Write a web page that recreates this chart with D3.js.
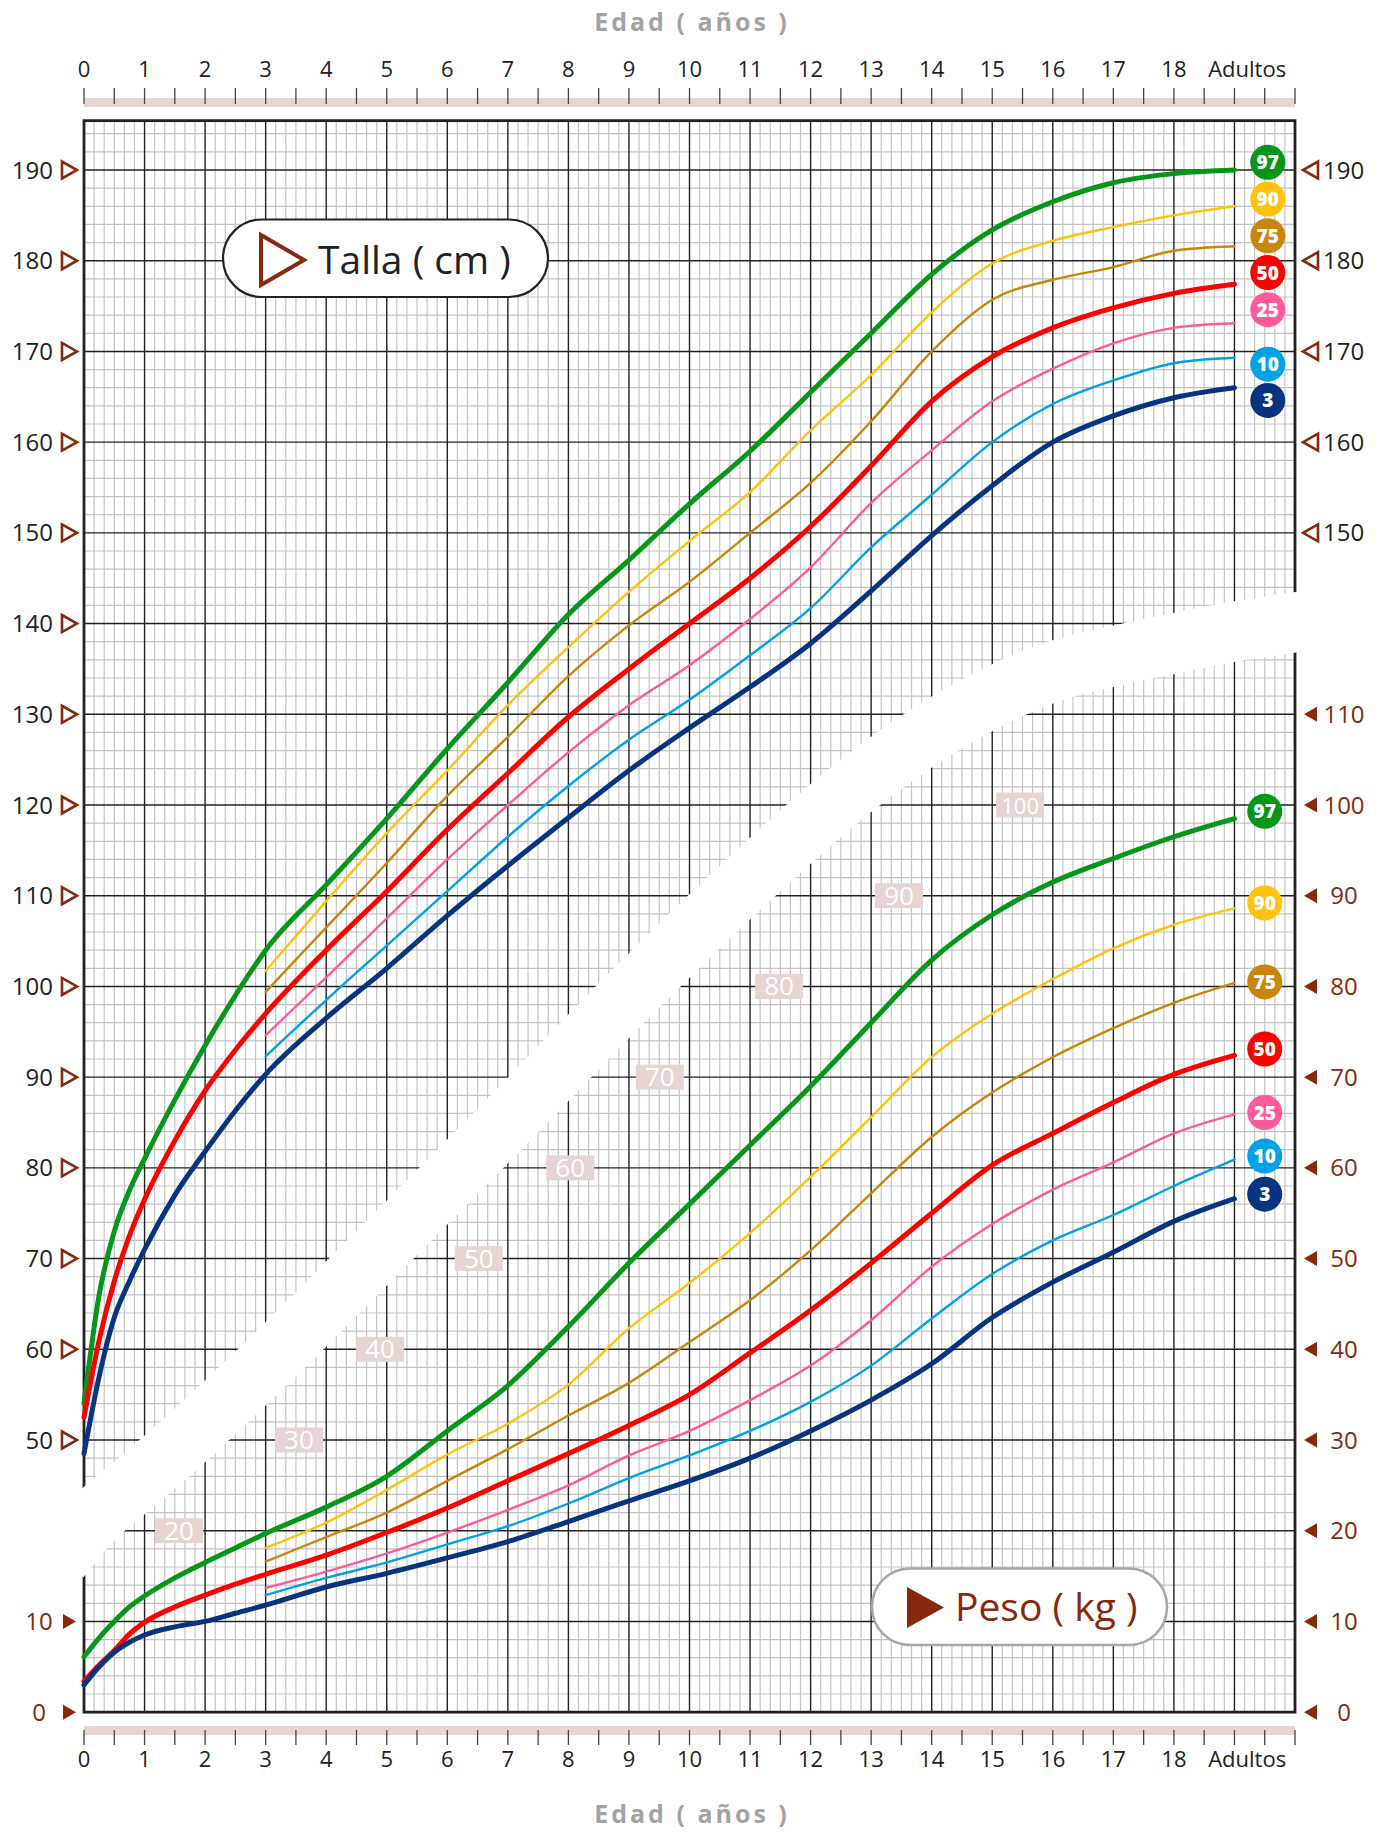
<!DOCTYPE html>
<html><head><meta charset="utf-8">
<script src="https://cdn.jsdelivr.net/npm/d3@7"></script>
<style>body{margin:0;background:#fff} svg{display:block} text{font-family:"Open Sans",sans-serif}</style>
</head><body><svg id="c" width="1386" height="1832"></svg>
<script>
// ---------- DATA ----------
const agesEarly = [0,0.25,0.5,0.75,1,1.5,2,2.5,3,4,5,6,7,8,9,10,11,12,13,14,15,16,17,18,19];
const agesLate  = [3,4,5,6,7,8,9,10,11,12,13,14,15,16,17,18,19];

const tallaP97 = [54,66,73,77.5,81,87.5,93.5,99,104,111.2,118.5,126.2,133.5,141,147,153.2,159,165.5,172,178.5,183.4,186.5,188.6,189.6,190];
const tallaP90 = [101.7,109.4,116.9,123.8,131,137.4,143.5,149.1,154.5,161.3,167.4,174.3,179.7,182.2,183.7,185,186];
const tallaP75 = [99.4,106.5,113.6,121,127.5,134.2,139.8,144.6,150,155.5,162.3,170,175.7,177.9,179.3,181.1,181.6];
const tallaP50 = [52.5,61,67.5,72.5,76.5,83,88.5,93,97,104,110.5,117.3,123.5,129.7,135,140,145,150.7,157.4,164.5,169.4,172.6,174.8,176.4,177.4];
const tallaP25 = [94.6,101,107.5,114,120,125.8,131,135.4,140.5,146.2,153.3,159.1,164.5,168.1,170.9,172.6,173.1];
const tallaP10 = [92.3,98.5,104.5,110.5,116.5,122.1,127.2,131.6,136.5,141.7,148.4,154.2,160,164.2,166.8,168.7,169.3];
const tallaP3  = [48.5,57,63.5,67.5,71,77,81.8,86.3,90.3,96.5,102,107.8,113.3,118.6,123.8,128.5,133,137.8,143.6,149.7,155.2,160,162.9,164.9,166];

const pesoP97 = [6.1,8.2,10,11.6,12.8,14.8,16.5,18.1,19.7,22.6,26,31,36,42.5,49.5,56,62.5,69,76,82.9,87.9,91.5,94.1,96.5,98.5];
const pesoP90 = [18.1,20.9,24.5,28.4,31.8,36.1,42.3,47.3,52.8,59,65.6,72.2,77,80.8,84.2,86.8,88.6];
const pesoP75 = [16.6,19.3,22,25.5,29,32.7,36.3,40.8,45.4,50.9,57.2,63.4,68.3,72.2,75.4,78.2,80.4];
const pesoP50 = [3.4,5.2,6.8,8.6,9.9,11.6,12.9,14.1,15.2,17.3,19.8,22.5,25.5,28.5,31.6,35,39.6,44.3,49.5,55,60.3,63.8,67.2,70.3,72.4];
const pesoP25 = [13.7,15.5,17.5,19.8,22.3,25,28.3,31,34.4,38.2,43.2,49.1,53.8,57.6,60.6,63.8,65.9];
const pesoP10 = [12.9,14.8,16.5,18.5,20.5,23,25.8,28.3,31,34.2,38.2,43.4,48.3,52,54.8,58,60.9];
const pesoP3  = [3,5,6.6,7.7,8.5,9.4,10,10.9,11.8,13.8,15.3,17,18.8,21,23.3,25.5,28,31,34.4,38.4,43.5,47.4,50.7,54.1,56.6];

const percentiles = ["97","90","75","50","25","10","3"];
const ageTickLabels = ["0","1","2","3","4","5","6","7","8","9","10","11","12","13","14","15","16","17","18","Adultos"];
const tallaTicksLeft  = [50,60,70,80,90,100,110,120,130,140,150,160,170,180,190];
const tallaTicksRight = [150,160,170,180,190];
const pesoTicksLeft   = [0,10];
const pesoTicksRight  = [0,10,20,30,40,50,60,70,80,90,100,110];
const pesoGridLabels  = [20,30,40,50,60,70,80,90,100];
const pesoGridLabelAges = [1.57,3.55,4.89,6.52,8.03,9.51,11.48,13.46,15.46];
const badgeTalla = [190.85,186.8,182.75,178.7,174.6,168.6,164.6];
const badgePeso  = [99.3,89.2,80.5,73.1,66.1,61.3,57.1];
// white separating band: centre line (age, talla-cm units)
const bandAges  = [-0.4,0,1.01,1.65,3.02,5.22,6.87,9.0,11.0,12.65,14.3,15.96,17.0,17.99,18.98,20.2];
const bandTalla = [36.9,40.2,46.15,49.9,58.5,73.2,84.3,99.0,111.9,121.6,129.3,134.6,136.4,137.8,139.1,140.3];

// ---------- LAYOUT ----------
const colors = {"97":"#05961a","90":"#ffc20e","75":"#c8860a","50":"#fe0000","25":"#ff5b9a","10":"#00a2e6","3":"#07347f"};
const thick = {"97":true,"50":true,"3":true};
const brown = "#86290d";
const svg = d3.select("#c");
const x = d3.scaleLinear().domain([0,20]).range([84,1295]);
const yT = d3.scaleLinear().domain([50,190]).range([1440,170]);
const yTop = 195.44, yBot = 20;
const yW = w => yT(w+20);
const L = x(0), R = x(20), T = yT(yTop), B = yT(yBot);

// grid
const g = svg.append("g");
const minorX = d3.range(0,20*6+1).map(i=>i/6).filter(v=>Math.abs(v-Math.round(v))>1e-6);
const minorY = d3.range(20,196,2).filter(v=>v%10!==0);
g.selectAll(".mx").data(minorX).join("line").attr("x1",d=>x(d)).attr("x2",d=>x(d)).attr("y1",T).attr("y2",B).attr("stroke","#c4c4c4").attr("stroke-width",1.2);
g.selectAll(".my").data(minorY).join("line").attr("x1",L).attr("x2",R).attr("y1",d=>yT(d)).attr("y2",d=>yT(d)).attr("stroke","#c4c4c4").attr("stroke-width",1.2);
g.selectAll(".Mx").data(d3.range(1,20)).join("line").attr("x1",d=>x(d)).attr("x2",d=>x(d)).attr("y1",T).attr("y2",B).attr("stroke","#222").attr("stroke-width",1.4);
g.selectAll(".My").data(d3.range(30,191,10)).join("line").attr("x1",L).attr("x2",R).attr("y1",d=>yT(d)).attr("y2",d=>yT(d)).attr("stroke","#222").attr("stroke-width",1.4);
g.append("rect").attr("x",L).attr("y",T).attr("width",R-L).attr("height",B-T).attr("fill","none").attr("stroke","#222").attr("stroke-width",2.8);

// white band
const bandLine = d3.line().x((d,i)=>x(bandAges[i])).y(d=>yT(d)).curve(d3.curveMonotoneX);
svg.append("path").attr("d",bandLine(bandTalla)).attr("fill","none").attr("stroke","#fff").attr("stroke-width",60);

// weight grid labels
const lg = svg.append("g");
pesoGridLabels.forEach((v,i)=>{
  const cx = x(pesoGridLabelAges[i]), cy = yW(v);
  lg.append("rect").attr("x",cx-24).attr("y",cy-12.5).attr("width",48).attr("height",25).attr("fill","#e6d5d2");
  lg.append("text").attr("x",cx).attr("y",cy+9).attr("text-anchor","middle").attr("font-size",v>=100?22:26).attr("fill","#fff").text(v);
});

// curves
const lineFn = d3.line().curve(d3.curveMonotoneX);
function series(ages, vals, yfn){ return vals.map((v,i)=>[x(ages[i]), yfn(v)]); }
const tallaSets = {"97":[agesEarly,tallaP97],"90":[agesLate,tallaP90],"75":[agesLate,tallaP75],"50":[agesEarly,tallaP50],"25":[agesLate,tallaP25],"10":[agesLate,tallaP10],"3":[agesEarly,tallaP3]};
const pesoSets = {"97":[agesEarly,pesoP97],"90":[agesLate,pesoP90],"75":[agesLate,pesoP75],"50":[agesEarly,pesoP50],"25":[agesLate,pesoP25],"10":[agesLate,pesoP10],"3":[agesEarly,pesoP3]};
const cg = svg.append("g");
["90","75","25","10","97","50","3"].forEach(p=>{
  [[tallaSets,yT],[pesoSets,yW]].forEach(([sets,yf])=>{
    cg.append("path").attr("d",lineFn(series(sets[p][0],sets[p][1],yf)))
      .attr("fill","none").attr("stroke",colors[p]).attr("stroke-width",thick[p]?5:2.4)
      .attr("stroke-linecap","round").attr("stroke-linejoin","round");
  });
});

// badges
const bg = svg.append("g");
percentiles.forEach((p,i)=>{
  [[badgeTalla[i],yT,19.55],[badgePeso[i],yW,19.5]].forEach(([v,yf,a])=>{
    const cx=x(a), cy=yf(v);
    bg.append("circle").attr("cx",cx).attr("cy",cy).attr("r",17.5).attr("fill",colors[p]);
    bg.append("text").attr("x",cx).attr("y",cy+7).attr("text-anchor","middle").attr("font-size",19).attr("font-weight",800).attr("fill","#fff").text(p);
  });
});

// pills
const pill1 = svg.append("g");
pill1.append("rect").attr("x",223).attr("y",219.5).attr("width",325).attr("height",77.5).attr("rx",38.75).attr("fill","#fff").attr("stroke","#222").attr("stroke-width",2.2);
pill1.append("path").attr("d","M261,235 L261,285 L304,260 Z").attr("fill","none").attr("stroke",brown).attr("stroke-width",4);
pill1.append("text").attr("x",318).attr("y",274).attr("font-size",39).attr("fill","#222").text("Talla ( cm )");
const pill2 = svg.append("g");
pill2.append("rect").attr("x",872).attr("y",1568.5).attr("width",295).attr("height",76.5).attr("rx",38).attr("fill","#fff").attr("stroke","#a8a8a8").attr("stroke-width",2.5);
pill2.append("path").attr("d","M907,1587 L907,1628 L944,1607.5 Z").attr("fill",brown);
pill2.append("text").attr("x",955).attr("y",1621).attr("font-size",39).attr("fill",brown).text("Peso ( kg )");

// age axes
const ax = svg.append("g");
[[98,107,88,104,77],[1726,1735,1730,1745,1767]].forEach(([b0,b1,t0,t1,ty])=>{
  ax.append("rect").attr("x",L).attr("y",b0).attr("width",R-L).attr("height",b1-b0).attr("fill","#e8d5d3");
  ax.selectAll(null).data(d3.range(0,20.01,0.5)).join("line").attr("x1",d=>x(d)).attr("x2",d=>x(d)).attr("y1",t0).attr("y2",t1).attr("stroke","#444").attr("stroke-width",1.3);
  ax.selectAll(null).data(ageTickLabels).join("text").attr("x",(d,i)=>i===19?x(19.21):x(i)).attr("y",ty).attr("text-anchor","middle").attr("font-size",22).attr("fill","#222").text(d=>d);
});
[31,1823].forEach(ty=>{
  ax.append("text").attr("x",692).attr("y",ty).attr("text-anchor","middle").attr("font-size",25).attr("font-weight",700).attr("letter-spacing",3).attr("fill","#a3a3a3").text("Edad ( años )");
});

// vertical axes labels
const vy = svg.append("g");
tallaTicksLeft.forEach(v=>{
  const y=yT(v);
  vy.append("path").attr("d",`M62,${y-8.5} L62,${y+8.5} L77,${y} Z`).attr("fill","none").attr("stroke",brown).attr("stroke-width",2.6);
  vy.append("text").attr("x",53).attr("y",y+8.5).attr("text-anchor","end").attr("font-size",24).attr("fill","#222").text(v);
});
tallaTicksRight.forEach(v=>{
  const y=yT(v);
  vy.append("path").attr("d",`M1318,${y-8.5} L1318,${y+8.5} L1303,${y} Z`).attr("fill","none").attr("stroke",brown).attr("stroke-width",2.6);
  vy.append("text").attr("x",1323).attr("y",y+8.5).attr("font-size",24).attr("fill","#222").text(v);
});
pesoTicksLeft.forEach(v=>{
  const y=yW(v);
  vy.append("path").attr("d",`M63,${y-7.5} L63,${y+7.5} L76,${y} Z`).attr("fill",brown);
  vy.append("text").attr("x",39).attr("y",y+8.5).attr("text-anchor","middle").attr("font-size",24).attr("fill",brown).text(v);
});
pesoTicksRight.forEach(v=>{
  const y=yW(v);
  vy.append("path").attr("d",`M1317,${y-7.5} L1317,${y+7.5} L1304,${y} Z`).attr("fill",brown);
  vy.append("text").attr("x",1344).attr("y",y+8.5).attr("text-anchor","middle").attr("font-size",24).attr("fill",brown).text(v);
});
</script></body></html>
